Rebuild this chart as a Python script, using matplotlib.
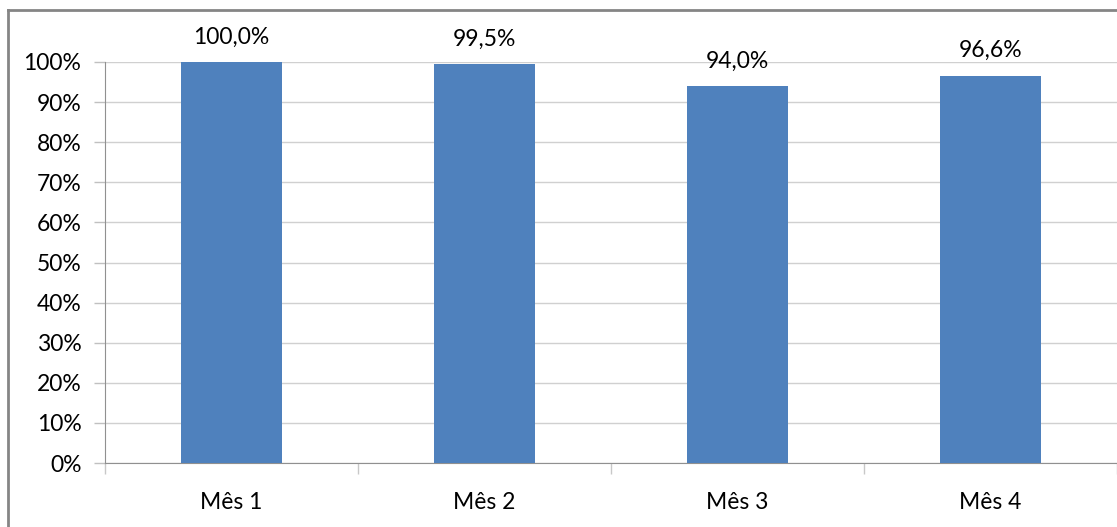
import matplotlib.pyplot as plt
from matplotlib.lines import Line2D
from matplotlib.ticker import FixedLocator, MultipleLocator, PercentFormatter

plt.rcParams['font.family'] = ['Lato', 'DejaVu Sans']

meses = ['Mês 1', 'Mês 2', 'Mês 3', 'Mês 4']
taxa = [100.0, 99.5, 94.0, 96.6]
rotulos = ['100,0%', '99,5%', '94,0%', '96,6%']

W, H = 1117, 527
fig = plt.figure(figsize=(W / 100, H / 100), dpi=100)
ax = fig.add_axes([105 / W, (H - 463) / H, (W - 105) / W, (463 - 62) / H])

x = range(len(meses))
ax.bar(x, taxa, width=0.4, color='#4f81bd', zorder=3)

for xi, v, txt in zip(x, taxa, rotulos):
    ax.annotate(txt, (xi, v), xytext=(0, 10.5), textcoords='offset points',
                ha='center', va='bottom', fontsize=16.5, color='#000000')

ax.set_xlim(-0.5, len(meses) - 0.5)
ax.set_ylim(0, 100)
ax.yaxis.set_major_locator(MultipleLocator(10))
ax.yaxis.set_major_formatter(PercentFormatter(decimals=0))
ax.set_xticks(list(x))
ax.set_xticklabels(meses)
ax.xaxis.set_minor_locator(FixedLocator([i - 0.5 for i in range(len(meses) + 1)]))

ax.grid(axis='y', color='#d0d0d0', linewidth=1, zorder=0)
ax.tick_params(axis='x', which='major', length=0, pad=21, labelsize=16.5)
ax.tick_params(axis='x', which='minor', length=8, width=1, color='#c8c8c8')
ax.tick_params(axis='y', length=8, width=1, color='#c0c0c0', pad=9, labelsize=16.5)

for side in ['top', 'right']:
    ax.spines[side].set_visible(False)
ax.spines['left'].set_color('#909090')
ax.spines['bottom'].set_color('#909090')

# moldura externa do gráfico
fig.add_artist(Line2D([7.5 / W, 1], [1 - 10 / H, 1 - 10 / H], color='#858585', linewidth=2, transform=fig.transFigure))
fig.add_artist(Line2D([7.5 / W, 7.5 / W], [0, 1 - 10 / H], color='#858585', linewidth=2, transform=fig.transFigure))

fig.savefig('out.png', dpi=100)
